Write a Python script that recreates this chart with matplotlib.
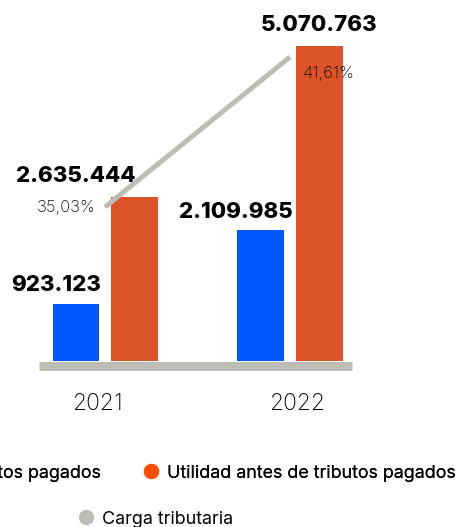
import matplotlib.pyplot as plt
from matplotlib.lines import Line2D

plt.rcParams['font.family'] = ['Inter', 'DejaVu Sans']

years = ['2021', '2022']
tributos = [923123, 2109985]
utilidad = [2635444, 5070763]
carga = [35.03, 41.61]

tributos_lbl = ['923.123', '2.109.985']
utilidad_lbl = ['2.635.444', '5.070.763']
carga_lbl = ['35,03%', '41,61%']

blue = '#0057ff'
orange = '#dd5428'
orange_dot = '#ff4f00'
gray = '#bebdb5'

fig = plt.figure(figsize=(4.58, 5.27), dpi=100)
ax = fig.add_axes([39/458, 161.5/527, 313/458, 345.5/527])

x = [0, 1]
w = 0.254
off = 0.157
tm = [v / 1e6 for v in tributos]
um = [v / 1e6 for v in utilidad]
ax.bar([i - off for i in x], tm, width=w, color=blue, zorder=3)
ax.bar([i + off for i in x], um, width=w, color=orange, zorder=3)

ax.set_xlim(-0.357, 1.335)
ax.set_ylim(-0.073, 5.49)

for s in ['top', 'right', 'left']:
    ax.spines[s].set_visible(False)
ax.spines['bottom'].set_color(gray)
ax.spines['bottom'].set_linewidth(6.5)
ax.spines['bottom'].set_capstyle('butt')
ax.set_yticks([])
ax.set_xticks([-0.04, 1.04])
ax.set_xticklabels(years, fontsize=16.5, fontweight='light', color='#000000')
ax.tick_params(axis='x', length=0, pad=20)

# value labels above bars (horizontal nudges keep them clear of the line)
t_dx = [-14, -18]
u_dx = [-42, 0]
for i in x:
    ax.annotate(tributos_lbl[i], (i - off, tm[i]), xytext=(t_dx[i], 6),
                textcoords='offset points', ha='center', va='bottom',
                fontsize=16, fontweight='heavy', color='#000000', zorder=5)
    ax.annotate(utilidad_lbl[i], (i + off, um[i]), xytext=(u_dx[i], 8),
                textcoords='offset points', ha='center', va='bottom',
                fontsize=16, fontweight='heavy', color='#000000', zorder=5)

ax2 = ax.twinx()
ax2.set_ylim(28.08, 43.23)
ax2.axis('off')
ax2.plot(x, carga, color=gray, lw=3.6, solid_capstyle='butt', zorder=4)
ax2.annotate(carga_lbl[0], (0, carga[0]), xytext=(-7, 0),
             textcoords='offset points', ha='right', va='center',
             fontsize=12, fontweight='light', color='#111111')
ax2.annotate(carga_lbl[1], (1, carga[1]), xytext=(9, -12),
             textcoords='offset points', ha='left', va='center',
             fontsize=12, fontweight='light', color='#111111')

h1 = [Line2D([], [], ls='none', marker='o', ms=10, color=blue, label='Tributos pagados'),
      Line2D([], [], ls='none', marker='o', ms=10, color=orange_dot,
             label='Utilidad antes de tributos pagados')]
leg1 = fig.legend(handles=h1, ncol=2, frameon=False, loc='center right',
                  bbox_to_anchor=(456/458, 1 - 473/527), fontsize=12.9,
                  borderpad=0, borderaxespad=0, handlelength=0.8,
                  handletextpad=0.5, columnspacing=2.4)
h2 = [Line2D([], [], ls='none', marker='o', ms=10, color=gray, label='Carga tributaria')]
fig.legend(handles=h2, frameon=False, loc='center left',
           bbox_to_anchor=(79/458, 1 - 519/527), fontsize=12.9,
           borderpad=0, borderaxespad=0, handlelength=0.8, handletextpad=0.5)
fig.add_artist(leg1)

fig.savefig('out.png', dpi=100)
